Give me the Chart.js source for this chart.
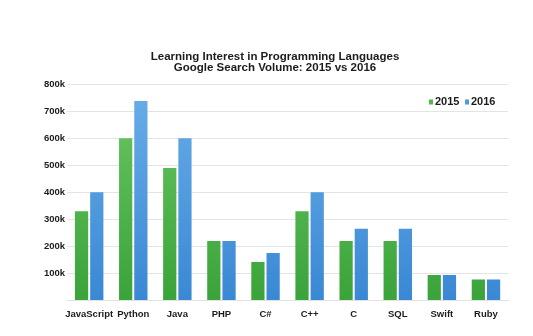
<!DOCTYPE html>
<html>
<head>
<meta charset="utf-8">
<script src="https://cdn.jsdelivr.net/npm/chart.js@4"></script>
<style>
  html, body { margin: 0; padding: 0; background: #fff; }
  #wrap { width: 533px; height: 336px; }
</style>
</head>
<body>
<div id="wrap"><canvas id="chart"></canvas></div>
<script>
/* Learning interest in programming languages — 2015 vs 2016 */

const languages = ['JavaScript', 'Python', 'Java', 'PHP', 'C#', 'C++', 'C', 'SQL', 'Swift', 'Ruby'];
const volume2015 = [330000, 600000, 490000, 220000, 143000, 330000, 220000, 220000, 95000, 78000];
const volume2016 = [400000, 737000, 600000, 220000, 176000, 400000, 265000, 265000, 95000, 78000];
const yTicks = [0, 100000, 200000, 300000, 400000, 500000, 600000, 700000, 800000];

const FONT = 'Liberation Sans, Arial, Helvetica, sans-serif';
const INK = '#1c1c1c';
const SWATCH = ['#52b84c', '#4f9be0'];

function barGradient(top, bottom) {
  return (ctx) => {
    const { chart } = ctx;
    const area = chart.chartArea;
    if (!area) return bottom;
    const g = chart.ctx.createLinearGradient(0, area.top, 0, area.bottom);
    g.addColorStop(0, top);
    g.addColorStop(1, bottom);
    return g;
  };
}

/* ── legend drawn inside the plot, top right ─────────────────────── */
const insideLegend = {
  id: 'insideLegend',
  afterDraw(chart) {
    const { ctx, chartArea } = chart;
    ctx.save();
    ctx.font = `bold 11px ${FONT}`;
    ctx.textBaseline = 'middle';
    const y = chartArea.top + 18;
    let x = chartArea.right - 79;
    chart.data.datasets.forEach((ds, i) => {
      ctx.fillStyle = SWATCH[i];
      ctx.fillRect(x, y - 2.5, 4, 5);
      ctx.fillStyle = INK;
      ctx.fillText(ds.label, x + 6, y);
      x += 36;
    });
    ctx.restore();
  },
};

const ctx = document.getElementById('chart').getContext('2d');
new Chart(ctx, {
  type: 'bar',
  data: {
    labels: languages,
    datasets: [
      {
        label: '2015',
        data: volume2015,
        backgroundColor: barGradient('#6cc865', '#3aa33a'),
        hoverBackgroundColor: '#4fb34b',
      },
      {
        label: '2016',
        data: volume2016,
        backgroundColor: barGradient('#6aaee8', '#3a88d4'),
        hoverBackgroundColor: '#4d98dc',
      },
    ],
  },
  plugins: [insideLegend],
  options: {
    responsive: true,
    maintainAspectRatio: false,
    animation: false,
    categoryPercentage: 0.69,
    barPercentage: 0.87,
    layout: { padding: { top: 51, right: 25, bottom: 8, left: 42 } },
    plugins: {
      title: {
        display: true,
        text: ['Learning Interest in Programming Languages', 'Google Search Volume: 2015 vs 2016'],
        color: INK,
        font: { family: FONT, size: 11.5, weight: 'bold', lineHeight: 1.0 },
        padding: { top: 0, bottom: 10 },
      },
      legend: { display: false },
    },
    scales: {
      x: {
        grid: { display: false, drawTicks: false },
        border: { display: true, color: '#e2e2e2' },
        ticks: {
          color: INK,
          font: { family: FONT, size: 9.5, weight: 'bold' },
          padding: 8,
          maxRotation: 0,
          autoSkip: false,
        },
      },
      y: {
        min: 0,
        max: 800000,
        afterBuildTicks: (axis) => { axis.ticks = yTicks.map(v => ({ value: v })); },
        grid: { color: '#e4e4e4', drawTicks: false },
        border: { display: false },
        ticks: {
          color: INK,
          font: { family: FONT, size: 9.5, weight: 'bold' },
          padding: 2,
          callback: v => (v === 0 ? '' : `${v / 1000}k`),
        },
      },
    },
  },
});
</script>
</body>
</html>
